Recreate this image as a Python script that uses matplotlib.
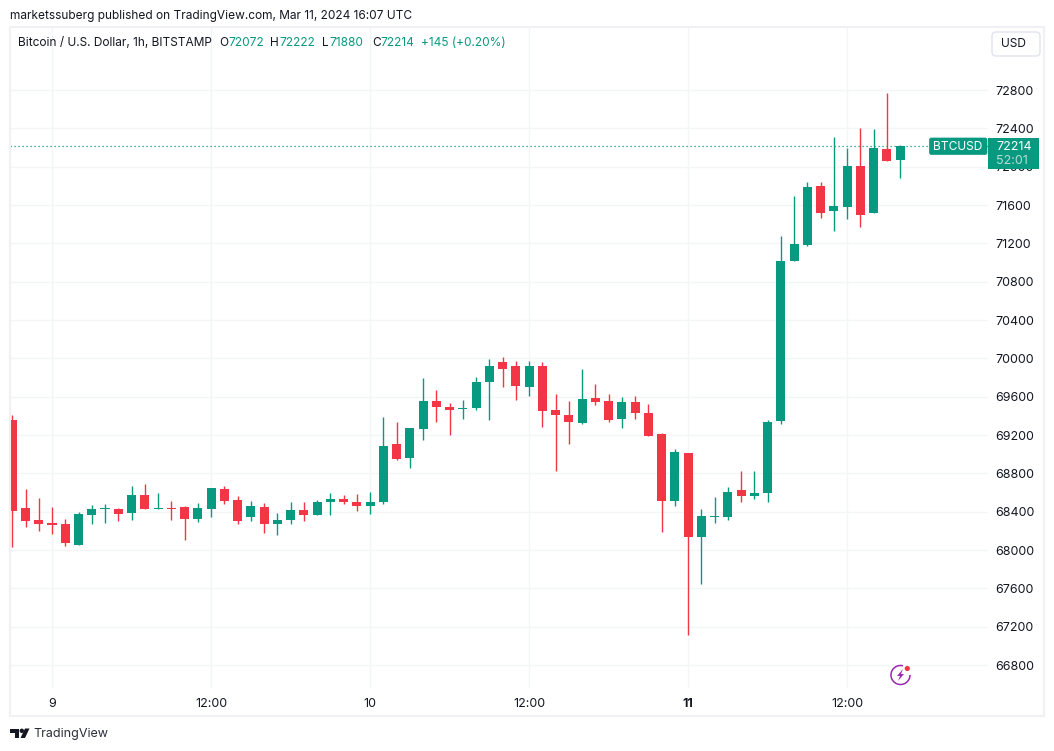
import matplotlib
matplotlib.use('Agg')
import matplotlib.pyplot as plt
from matplotlib.patches import Rectangle, FancyBboxPatch, Circle, Arc, Polygon

plt.rcParams['font.family'] = ['Inter', 'DejaVu Sans']

# BTCUSD 1h candles, hours counted from Mar 9 00:00 UTC
hours = list(range(-3, 65))
opens = [69361, 68435, 68309, 68277, 68267, 68056, 68361, 68425, 68425, 68382,
         68572, 68425, 68435, 68446, 68319, 68425, 68635, 68519, 68340, 68446,
         68267, 68309, 68414, 68361, 68498, 68530, 68498, 68456, 68498, 69109,
         68961, 69267, 69551, 69488, 69467, 69477, 69751, 69961, 69919, 69698,
         69919, 69456, 69414, 69330, 69582, 69551, 69372, 69540, 69435, 69214,
         68509, 69014, 68140, 68340, 68340, 68625, 68561, 68593, 69351, 71016,
         71183, 71798, 71537, 71579, 72007, 71516, 72184, 72072]
highs = [69404, 68635, 68540, 68446, 68319, 68393, 68467, 68477, 68435, 68667,
         68688, 68593, 68509, 68456, 68488, 68646, 68667, 68561, 68509, 68488,
         68382, 68498, 68498, 68519, 68593, 68572, 68582, 68603, 69393, 69340,
         69277, 69793, 69667, 69530, 69561, 69804, 69993, 70014, 69972, 69972,
         69961, 69625, 69551, 69888, 69730, 69625, 69593, 69604, 69519, 69225,
         69056, 69014, 68425, 68551, 68656, 68825, 68825, 69361, 71277, 71694,
         71840, 71840, 72310, 72195, 72403, 72393, 72769, 72222]
lows = [68028, 68239, 68203, 68172, 68046, 68056, 68267, 68277, 68298, 68309,
        68425, 68425, 68309, 68109, 68288, 68340, 68477, 68267, 68298, 68182,
        68161, 68267, 68298, 68361, 68361, 68477, 68403, 68372, 68477, 68940,
        68856, 69151, 69340, 69204, 69372, 69456, 69361, 69698, 69561, 69604,
        69288, 68825, 69109, 69319, 69509, 69340, 69277, 69372, 69193, 68193,
        68456, 67109, 67646, 68277, 68309, 68498, 68530, 68498, 69319, 71016,
        71172, 71464, 71329, 71454, 71370, 71516, 72059, 71880]
closes = [68403, 68298, 68267, 68256, 68077, 68372, 68425, 68435, 68372, 68572,
          68425, 68435, 68425, 68319, 68435, 68646, 68509, 68298, 68456, 68267,
          68309, 68414, 68361, 68498, 68530, 68498, 68456, 68498, 69088, 68951,
          69277, 69551, 69488, 69456, 69477, 69751, 69919, 69888, 69709, 69919,
          69446, 69404, 69340, 69572, 69540, 69361, 69540, 69435, 69193, 68509,
          69025, 68140, 68351, 68351, 68604, 68561, 68593, 69340, 71016, 71193,
          71788, 71516, 71590, 72007, 71496, 72195, 72059, 72214]

price_ticks = list(range(66800, 73000, 400))
time_ticks = [0, 12, 24, 36, 48, 60]
time_labels = ['9', '12:00', '10', '12:00', '11', '12:00']
last_price = 72214

GREEN = '#089981'
RED = '#F23645'
GRID = '#F4F5F7'
INK = '#131722'
W, H = 1054, 751

fig = plt.figure(figsize=(W / 100, H / 100), dpi=100, facecolor='white')

# main chart, placed by pixels
ax = fig.add_axes([10 / W, 1 - 688 / H, 978 / W, 661 / H])
ax.set_xlim(-3.17, 70.64)
ax.set_ylim(66560, 73458)

for h, o, hi, lo, c in zip(hours, opens, highs, lows, closes):
    col = GREEN if c >= o else RED
    ax.vlines(h, lo, hi, color=col, lw=1.0, zorder=3)
    ax.bar(h, max(abs(c - o), 10), bottom=min(o, c), width=0.68, color=col, lw=0, zorder=4)

ax.axhline(last_price, color=GREEN, lw=0.9, ls=(0, (1, 2.2)), zorder=2)

ax.set_yticks(price_ticks)
ax.set_xticks(time_ticks)
ax.set_xticklabels(time_labels)
ax.yaxis.tick_right()
ax.grid(True, color=GRID, lw=1.0, zorder=0)
ax.set_axisbelow(True)
ax.tick_params(axis='both', length=0, labelsize=9, labelcolor=INK)
ax.tick_params(axis='y', pad=5)
ax.tick_params(axis='x', pad=7.2)
ax.get_xticklabels()[4].set_fontweight('bold')
for s in ax.spines.values():
    s.set_visible(False)

# overlay in pixel coordinates for the TradingView furniture
ov = fig.add_axes([0, 0, 1, 1], facecolor='none')
ov.set_xlim(0, W)
ov.set_ylim(H, 0)
ov.axis('off')

ov.add_patch(Rectangle((9.5, 27), 1034.5, 688.5, fill=False, ec='#F0F0F5', lw=1.5))

ov.text(10, 15.5, 'marketssuberg published on TradingView.com, Mar 11, 2024 16:07 UTC',
        fontsize=8.55, color=INK, va='center')

ov.text(18, 42.5, 'Bitcoin / U.S. Dollar, 1h, BITSTAMP', fontsize=8.55, color=INK, va='center')
header = [(219, 'O', INK), (228, '72072', GREEN), (270, 'H', INK), (279, '72222', GREEN),
          (322, 'L', INK), (329, '71880', GREEN), (372, 'C', INK), (380, '72214', GREEN),
          (421, '+145 (+0.20%)', GREEN)]
for x, s, col in header:
    ov.text(x, 42.5, s, fontsize=8.55, color=col, va='center')

# USD button
ov.add_patch(FancyBboxPatch((995, 35), 42, 18, boxstyle='round,pad=3,rounding_size=4',
                            fc='white', ec='#E0E3EB', lw=1))
ov.text(1014, 44, 'USD', fontsize=8.6, color=INK, ha='center', va='center')

# last price labels
ov.add_patch(FancyBboxPatch((930, 138.5), 56.5, 15.5, boxstyle='round,pad=0.5,rounding_size=2',
                            fc=GREEN, ec=GREEN, lw=0.5))
ov.text(958, 146.5, 'BTCUSD', fontsize=8.6, color='white', ha='center', va='center')
ov.add_patch(Rectangle((988, 138), 51, 31, fc=GREEN, ec='none'))
ov.text(996, 146.5, '72214', fontsize=9, color='white', va='center')
ov.text(996, 160.5, '52:01', fontsize=9, color='#B5DED6', va='center')

# lightning badge
PURPLE = '#9C27B0'
ov.add_patch(Arc((900.5, 675), 19, 19, theta1=0, theta2=285, color=PURPLE, lw=1.1))
ov.add_patch(Polygon([(903, 669), (897, 676), (900, 676), (898, 681), (904, 674), (901, 674)],
                     fc=PURPLE, ec='none'))
ov.add_patch(Circle((907.3, 668.5), 2.6, fc=RED, ec='none'))

# TradingView logo
ov.add_patch(Polygon([(10, 728.5), (19, 728.5), (19, 738), (14.5, 738), (14.5, 733), (10, 733)],
                     fc=INK, ec='none'))
ov.add_patch(Circle((21.8, 730.8), 2.2, fc=INK, ec='none'))
ov.add_patch(Polygon([(20.5, 738), (25, 728.5), (29.5, 728.5), (25, 738)], fc=INK, ec='none'))
ov.text(33.5, 734.5, 'TradingView', fontsize=9.0, color='#2A2E39', va='center')

fig.savefig('out.png', dpi=100)
